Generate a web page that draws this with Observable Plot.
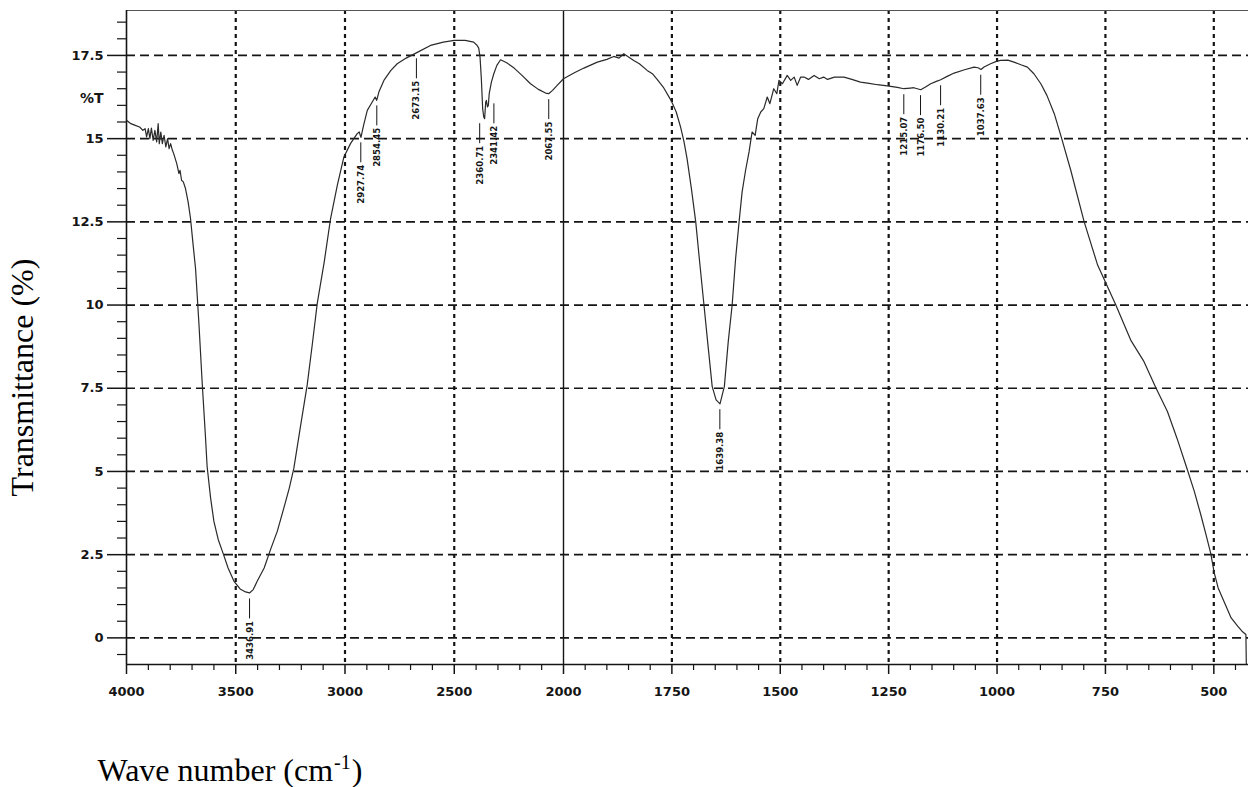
<!DOCTYPE html>
<html>
<head>
<meta charset="utf-8">
<script src="https://cdn.jsdelivr.net/npm/d3@7"></script>
<script src="https://cdn.jsdelivr.net/npm/@observablehq/plot@0.6"></script>
<style>
  html, body { margin: 0; padding: 0; background: #fff; }
  #chart svg { display: block; }
</style>
</head>
<body>
<div id="chart"></div>
<script>
// ---------- data ----------
const wavenumbers = [
  4000, 3980, 3960, 3940, 3925, 3915, 3908, 3900, 3893, 3886, 3878, 3870, 3862, 3855, 3850, 3843,
  3836, 3828, 3820, 3812, 3805, 3798, 3790, 3784, 3770, 3760, 3755, 3748, 3740, 3730, 3718, 3707,
  3695, 3684, 3669, 3653, 3640, 3631, 3615, 3600, 3580, 3561, 3535, 3508, 3480, 3455, 3437, 3420,
  3402, 3370, 3341, 3310, 3280, 3255, 3234, 3205, 3173, 3150, 3127, 3095, 3066, 3035, 3005, 2975,
  2944, 2935, 2927, 2915, 2898, 2880, 2862, 2855, 2845, 2822, 2790, 2761, 2720, 2667, 2609, 2550,
  2500, 2450, 2411, 2395, 2388, 2382, 2376, 2370, 2365, 2361, 2356, 2353, 2348, 2344, 2340, 2330,
  2319, 2305, 2288, 2260, 2226, 2190, 2151, 2115, 2082, 2068, 2050, 2029, 2000, 1975, 1953, 1922,
  1900, 1884, 1872, 1861, 1850, 1838, 1825, 1807, 1795, 1784, 1770, 1752, 1740, 1730, 1722, 1715,
  1705, 1695, 1686, 1676, 1666, 1657, 1648, 1639, 1632, 1629, 1620, 1611, 1603, 1595, 1588, 1580,
  1572, 1565, 1558, 1552, 1545, 1538, 1530, 1524, 1515, 1508, 1503, 1495, 1484, 1476, 1468, 1461,
  1453, 1445, 1435, 1422, 1410, 1400, 1391, 1375, 1353, 1335, 1315, 1295, 1276, 1249, 1230, 1215,
  1200, 1192, 1176, 1165, 1153, 1140, 1130, 1115, 1099, 1075, 1053, 1044, 1037, 1030, 1015, 1000,
  992, 975, 961, 945, 930, 915, 899, 885, 868, 853, 830, 799, 768, 726, 691, 661,
  634, 607, 585, 561, 545, 530, 518, 507, 499, 490, 480, 470, 460, 445, 435, 426, 425
];
const transmittance = [
  15.55, 15.45, 15.4, 15.35, 15.25, 15.3, 15.05, 15.3, 15.0, 15.32, 14.95, 15.25, 14.9, 15.45, 14.85, 15.2,
  14.85, 15.1, 14.75, 15.0, 14.7, 14.85, 14.65, 14.55, 14.25, 13.95, 14.05, 13.75, 13.7, 13.5, 13.1, 12.6,
  11.8, 11.1, 9.5, 7.6, 6.2, 5.15, 4.2, 3.5, 2.95, 2.6, 2.1, 1.7, 1.47, 1.38, 1.35, 1.45,
  1.7, 2.1, 2.65, 3.2, 3.9, 4.5, 5.1, 6.3, 7.6, 8.8, 10.05, 11.3, 12.6, 13.6, 14.45, 14.85,
  15.15, 15.2, 15.04, 15.4, 15.85, 16.05, 16.25, 16.15, 16.4, 16.75, 17.05, 17.25, 17.42, 17.6, 17.8, 17.9,
  17.95, 17.95, 17.9, 17.8, 17.72, 17.45, 16.8, 15.9, 15.65, 15.6, 16.1, 16.15, 15.95, 16.0, 16.35, 16.7,
  16.95, 17.2, 17.37, 17.28, 17.12, 16.9, 16.65, 16.48, 16.37, 16.35, 16.45, 16.6, 16.8, 16.98, 17.12, 17.3,
  17.38, 17.47, 17.42, 17.55, 17.45, 17.35, 17.25, 17.05, 16.95, 16.78, 16.55, 16.15, 15.8, 15.35, 14.9, 14.4,
  13.5, 12.5, 11.3, 10.0, 8.7, 7.55, 7.15, 7.03, 7.4, 7.55, 8.9, 10.0, 11.4, 12.5, 13.4, 14.05,
  14.6, 15.2, 15.1, 15.6, 15.8, 15.9, 16.25, 16.05, 16.5, 16.35, 16.75, 16.65, 16.9, 16.75, 16.85, 16.6,
  16.85, 16.85, 16.78, 16.9, 16.8, 16.85, 16.78, 16.85, 16.85, 16.78, 16.7, 16.66, 16.62, 16.58, 16.54, 16.5,
  16.52, 16.53, 16.47, 16.55, 16.65, 16.72, 16.77, 16.87, 16.97, 17.07, 17.15, 17.13, 17.08, 17.15, 17.25, 17.33,
  17.35, 17.36, 17.3, 17.22, 17.15, 16.95, 16.65, 16.3, 15.75, 15.1, 14.05, 12.5, 11.2, 10.0, 8.93, 8.3,
  7.52, 6.8, 6.0, 5.05, 4.4, 3.7, 3.1, 2.53, 1.95, 1.5, 1.2, 0.9, 0.6, 0.35, 0.2, 0.1, -0.8
];

const xMajorTicks = [4000, 3500, 3000, 2500, 2000, 1750, 1500, 1250, 1000, 750, 500];
const xMinorTicks = [3900, 3800, 3700, 3600, 3400, 3300, 3200, 3100, 2900, 2800, 2700, 2600,
  2400, 2300, 2200, 2100, 1950, 1900, 1850, 1800, 1700, 1650, 1600, 1550, 1450, 1400, 1350, 1300,
  1200, 1150, 1100, 1050, 950, 900, 850, 800, 700, 650, 600, 550, 450];
const yMajorTicks = [0, 2.5, 5, 7.5, 10, 12.5, 15, 17.5];
const yMinorTicks = [-0.5, 0.5, 1, 1.5, 2, 3, 3.5, 4, 4.5, 5.5, 6, 6.5, 7, 8, 8.5, 9, 9.5,
  10.5, 11, 11.5, 12, 13, 13.5, 14, 14.5, 15.5, 16, 16.5, 17, 18, 18.5];

const peakWavenumbers = [3436.91, 2927.74, 2854.45, 2673.15, 2360.71, 2341.42, 2067.55,
  1639.38, 1215.07, 1176.50, 1130.21, 1037.63];
const peakLabels = ["3436.91", "2927.74", "2854.45", "2673.15", "2360.71", "2341.42", "2067.55",
  "1639.38", "1215.07", "1176.50", "1130.21", "1037.63"];

// ---------- layout / styles ----------
const W = 1248, H = 787;
const xDomain = [4000, 2000, 420];
const xRange = [126, 563, 1248];
const yDomain = [-0.8, 18.85];
const marginTop = 10, marginBottom = 123;
const pxPerUnit = (H - marginTop - marginBottom) / (yDomain[1] - yDomain[0]);
const labelNudge = {"2360.71": -5, "2341.42": 5};

const spectrum = wavenumbers.map((w, i) => ({w, t: transmittance[i]}));
function curveAt(w) {
  for (let i = 0; i < wavenumbers.length - 1; i++) {
    const a = wavenumbers[i], b = wavenumbers[i + 1];
    if (w <= a && w >= b) {
      const f = (a - w) / (a - b);
      return transmittance[i] + f * (transmittance[i + 1] - transmittance[i]);
    }
  }
  return transmittance[transmittance.length - 1];
}
const peaks = peakWavenumbers.map((w, i) => {
  const t = curveAt(w);
  return {w, label: peakLabels[i], t, nudge: labelNudge[peakLabels[i]] || 0,
    y1: t - 6 / pxPerUnit, y2: t - 26 / pxPerUnit};
});

const tickFont = "DejaVu Sans, Liberation Sans, sans-serif";
const peakFont = "Liberation Sans Narrow, DejaVu Sans Condensed, Arial Narrow, sans-serif";
const serif = "Liberation Serif, Times New Roman, serif";
const ink = "#151515";

// measure title pieces for the superscript
const ctx = document.createElement("canvas").getContext("2d");
ctx.font = "32px 'Liberation Serif'";
const mainPart = "Wave number (cm";
const mainW = ctx.measureText(mainPart).width;
ctx.font = "20px 'Liberation Serif'";
const supW = ctx.measureText("-1").width;
const titleX = 97 - 126;

const nudgeGroups = [0, -5, 5];
const peakMarks = nudgeGroups.flatMap(n => {
  const data = peaks.filter(p => p.nudge === n);
  return [
    Plot.ruleX(data, {x: "w", y1: "y1", y2: "y2", dx: n, stroke: ink, strokeWidth: 1}),
    Plot.text(data, {x: "w", y: "t", text: "label", dx: n, dy: 28, rotate: -90,
      textAnchor: "end", lineAnchor: "middle", fontSize: 9.5, fontWeight: "bold",
      fontFamily: peakFont, fill: ink})
  ];
});

const chart = Plot.plot({
  width: W,
  height: H,
  marginTop,
  marginBottom,
  marginLeft: 126,
  marginRight: 0,
  style: {background: "#fff", color: ink, overflow: "visible"},
  x: {type: "linear", domain: xDomain, range: xRange},
  y: {domain: yDomain},
  marks: [
    // grid
    Plot.ruleY(yMajorTicks, {stroke: ink, strokeWidth: 1.7, strokeDasharray: "9,5"}),
    Plot.ruleX(xMajorTicks.filter(d => d !== 4000 && d !== 2000),
      {stroke: ink, strokeWidth: 2.2, strokeDasharray: "4,4"}),
    Plot.ruleX([2000], {stroke: ink, strokeWidth: 1.4}),
    // frame lines
    Plot.ruleY([yDomain[1]], {stroke: "#555", strokeWidth: 1.2}),
    Plot.ruleX([4000], {stroke: ink, strokeWidth: 1.6}),
    Plot.ruleY([yDomain[0]], {stroke: ink, strokeWidth: 1.6}),
    // axes
    Plot.axisX({ticks: xMajorTicks, tickSize: 10, tickPadding: 12, tickFormat: d => String(d),
      fontSize: 13, fontWeight: "bold", fontFamily: tickFont, label: null, strokeWidth: 1.5}),
    Plot.axisX({ticks: xMinorTicks, tickSize: 6, tickFormat: () => "", label: null, strokeWidth: 1.2}),
    Plot.axisY({ticks: yMajorTicks, tickSize: 19, tickPadding: 4, tickFormat: d => String(d),
      fontSize: 13, fontWeight: "bold", fontFamily: tickFont, label: null, strokeWidth: 1.5}),
    Plot.axisY({ticks: yMinorTicks, tickSize: 9, tickFormat: () => "", label: null, strokeWidth: 1.2}),
    // spectrum
    Plot.line(spectrum, {x: "w", y: "t", stroke: "#2a2a2a", strokeWidth: 1.2}),
    // peak labels
    ...peakMarks,
    // %T label
    Plot.text(["%T"], {frameAnchor: "top-left", dx: -23, dy: 88, textAnchor: "end",
      lineAnchor: "middle", fontSize: 14, fontWeight: "bold", fontFamily: tickFont, fill: ink}),
    // axis titles
    Plot.text(["Transmittance (%)"], {frameAnchor: "left", dx: -104, dy: 40, rotate: -90,
      textAnchor: "middle", lineAnchor: "middle", fontSize: 32, fontFamily: serif, fill: "#000"}),
    Plot.text([mainPart], {frameAnchor: "bottom-left", dx: titleX, dy: 116, textAnchor: "start",
      lineAnchor: "bottom", fontSize: 32, fontFamily: serif, fill: "#000"}),
    Plot.text(["-1"], {frameAnchor: "bottom-left", dx: titleX + mainW + 1, dy: 104, textAnchor: "start",
      lineAnchor: "bottom", fontSize: 20, fontFamily: serif, fill: "#000"}),
    Plot.text([")"], {frameAnchor: "bottom-left", dx: titleX + mainW + supW + 2, dy: 116, textAnchor: "start",
      lineAnchor: "bottom", fontSize: 32, fontFamily: serif, fill: "#000"})
  ]
});
document.getElementById("chart").appendChild(chart);
</script>
</body>
</html>
